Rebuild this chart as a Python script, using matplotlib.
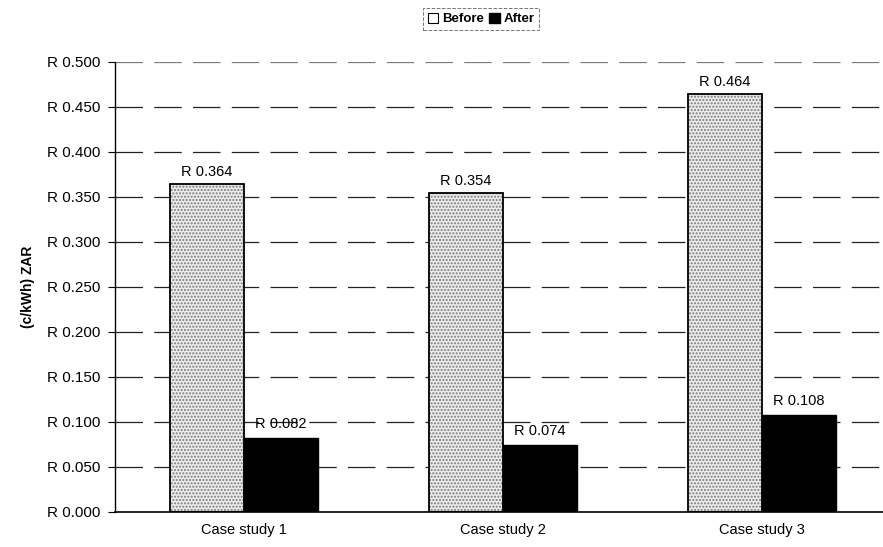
import numpy as np
import matplotlib.pyplot as plt

plt.rcParams['font.family'] = ['Liberation Sans', 'DejaVu Sans']

# Energy cost per kWh before and after, for each case study
cases = ['Case study 1', 'Case study 2', 'Case study 3']
before = [0.364, 0.354, 0.464]
after = [0.082, 0.074, 0.108]
y_ticks = [0.0, 0.05, 0.10, 0.15, 0.20, 0.25, 0.30, 0.35, 0.40, 0.45, 0.50]

fig = plt.figure(figsize=(8.83, 5.47), dpi=100)
ax = fig.add_axes([0.1297, 0.064, 0.880, 0.8227])

x = np.arange(len(cases)) + 0.5
width = 0.285

# Before bars: grey stipple with a black outline on top
ax.bar(x - width / 2, before, width, color='#ececec', edgecolor='#7a7a7a',
       hatch='.....', linewidth=0, zorder=2)
ax.bar(x - width / 2, before, width, fill=False, edgecolor='black',
       linewidth=1.3, zorder=3)
ax.bar(x + width / 2, after, width, color='black', edgecolor='black',
       linewidth=1.0, zorder=3)

for xi, v in zip(x - width / 2, before):
    ax.text(xi, v + 0.006, f'R {v:.3f}', ha='center', va='bottom', fontsize=10.5)
for xi, v in zip(x + width / 2, after):
    ax.text(xi, v + 0.008, f'R {v:.3f}', ha='center', va='bottom', fontsize=10.5)

ax.set_xlim(0, 3)
ax.set_ylim(0, 0.5)
ax.set_yticks(y_ticks)
ax.set_yticklabels([f'R {t:.3f}' for t in y_ticks], fontsize=11)
ax.set_xticks(x)
ax.set_xticklabels(cases, fontsize=10.5)
ax.tick_params(axis='x', length=0, pad=8)
ax.tick_params(axis='y', length=5, width=0.8, direction='out', pad=5)

# Long-dash horizontal gridlines
for t in y_ticks[1:]:
    ax.axhline(t, color='#222222', linewidth=0.9, dashes=(22, 9),
               alpha=0.6 if t == 0.5 else 1.0, zorder=1)

ax.spines['top'].set_visible(False)
ax.spines['right'].set_visible(False)
ax.spines['left'].set_linewidth(1.0)
ax.spines['bottom'].set_linewidth(1.2)

ax.set_ylabel('(c/kWh) ZAR', fontsize=10, fontweight='bold', labelpad=9)

handles = [plt.Rectangle((0, 0), 1, 1, facecolor='white', edgecolor='black', linewidth=0.8),
           plt.Rectangle((0, 0), 1, 1, facecolor='black', edgecolor='black')]
leg = fig.legend(handles, ['Before', 'After'], loc='center', bbox_to_anchor=(0.545, 0.965),
                 ncol=2, frameon=True, prop={'weight': 'bold', 'size': 9.5},
                 handlelength=0.8, handleheight=0.8, handletextpad=0.3,
                 columnspacing=0.4, borderpad=0.35, fancybox=False)
leg.get_frame().set_edgecolor('#555555')
leg.get_frame().set_linewidth(0.7)
leg.get_frame().set_linestyle('--')

fig.savefig('out.png', dpi=100)
